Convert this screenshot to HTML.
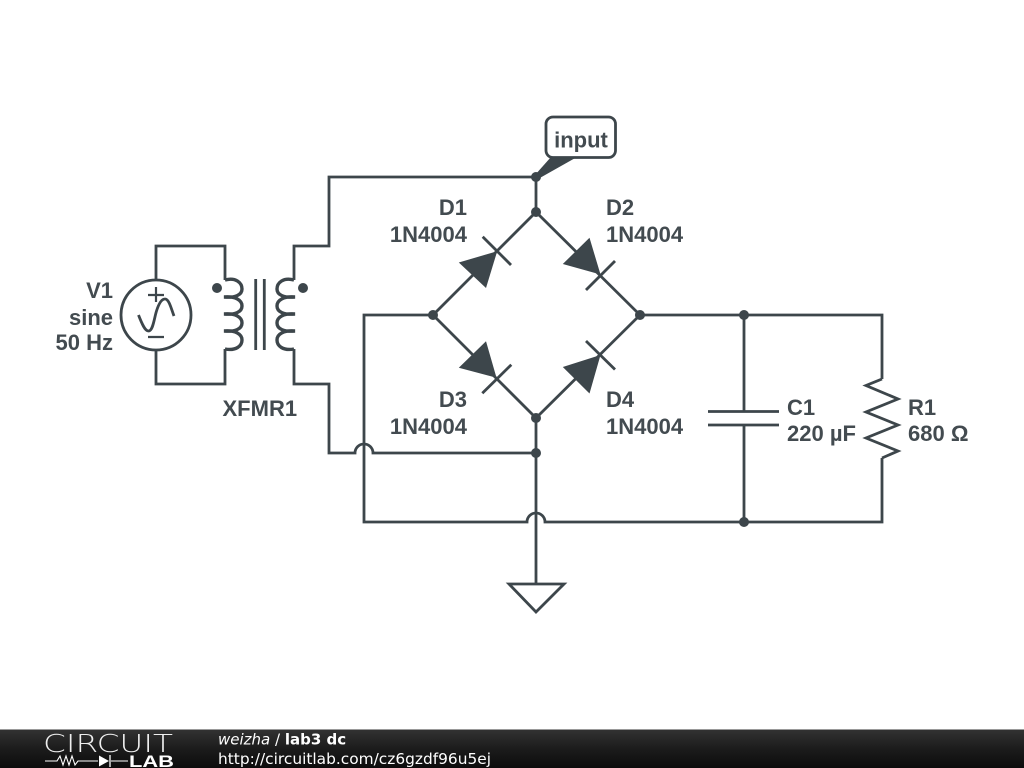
<!DOCTYPE html>
<html lang="en">
<head>
<meta charset="utf-8">
<title>lab3 dc</title>
<style>
html,body{margin:0;padding:0;background:#fff}
svg{display:block}
.w{fill:none;stroke:#3d464b;stroke-width:2.800;stroke-linejoin:miter;stroke-linecap:butt}
.c{stroke-width:3.400}
.f{fill:#3d464b;stroke:none}
.t{font-family:"Liberation Sans",sans-serif;font-weight:700;font-size:22px;fill:#434b50}
.e{text-anchor:end}
.foot{font-family:"DejaVu Sans",sans-serif;font-size:15px;fill:#fff}
</style>
</head>
<body>
<svg width="1024" height="768" viewBox="0 0 1024 768" xmlns="http://www.w3.org/2000/svg">
<defs>
<linearGradient id="bar" x1="0" y1="0" x2="0" y2="1">
<stop offset="0" stop-color="#333"/>
<stop offset="0.5" stop-color="#1c1c1c"/>
<stop offset="1" stop-color="#0c0c0c"/>
</linearGradient>
</defs>
<rect width="1024" height="768" fill="#fff"/>

<!-- wires -->
<path class="w" d="M156 280V246H225V280"/>
<path class="w" d="M156 350V384H225V349"/>
<path class="w" d="M294 280V246H329V177H536"/>
<path class="w" d="M294 349V384H329V453H355A9 9 0 0 1 373 453H536"/>
<path class="w" d="M433 315H364V522H527A9 9 0 0 1 545 522H882V458"/>
<path class="w" d="M536 177V212"/>
<path class="w" d="M536 418V584"/>
<path class="w" d="M640 315H882V379"/>
<path class="w" d="M744 315V411.500M744 425V522"/>
<path class="w" d="M882 379L866 385.500L898 399L866 412L898 425L866 438L898 451L882 458"/>
<path class="w" d="M708 411.500H779M708 425H779"/>

<!-- diode bridge -->
<path class="w" d="M433 315L536 212L640 315L536 418Z"/>
<polygon class="f" points="458.800,262.500 486,288 497.200,251.200"/>
<path class="w" d="M482.700 236.700L511 265"/>
<polygon class="f" points="589.500,237.800 562.800,264 600.500,274.500"/>
<path class="w" d="M615 261L586 290"/>
<polygon class="f" points="486,341.200 458.800,367.800 496.500,377.800"/>
<path class="w" d="M511.300 364.700L482.300 393.300"/>
<polygon class="f" points="562.800,367 589.500,393.500 600.500,355"/>
<path class="w" d="M586 341L615 369.500"/>

<!-- ground -->
<path class="w" d="M509 584H564L536 612Z"/>

<!-- source -->
<circle class="w" cx="156" cy="315" r="35"/>
<path class="w" style="stroke-width:2.200" d="M148 295H164M156 287V302M148 337H164"/>
<path class="w" d="M138.500 315C142 324 145 331 148.500 331C153 331 154 319 156.500 311C159 303 162 299 165 299C169 299 171 308 174 316"/>

<!-- transformer -->
<path class="w c" d="M225 280C236 277 242 283 242 289C242 295 235 298 224 297C235 296 242 300 242 306C242 312 235 315 224 314C235 313 242 317 242 323C242 329 235 332 224 331C235 330 242 334 242 340C242 346 236 351 225 349"/>
<path class="w c" d="M294 280C283 277 277 283 277 289C277 295 284 298 295 297C284 296 277 300 277 306C277 312 284 315 295 314C284 313 277 317 277 323C277 329 284 332 295 331C284 330 277 334 277 340C277 346 283 351 294 349"/>
<path class="w" d="M255.700 279V350M264.300 279V350"/>
<circle class="f" cx="217" cy="288" r="5"/>
<circle class="f" cx="303" cy="288" r="5"/>

<!-- junctions -->
<g class="f">
<circle cx="536" cy="177" r="5"/>
<circle cx="536" cy="212" r="5"/>
<circle cx="433" cy="315" r="5"/>
<circle cx="640" cy="315" r="5"/>
<circle cx="536" cy="418" r="5"/>
<circle cx="536" cy="453" r="5"/>
<circle cx="744" cy="315" r="5"/>
<circle cx="744" cy="522" r="5"/>
</g>

<!-- input tag -->
<polygon class="f" points="535,175 551,157 577,157 538,179"/>
<rect x="546" y="117" width="69.500" height="40.500" rx="7" ry="7" fill="#fff" stroke="#3d464b" stroke-width="2.800"/>
<text class="t" x="581" y="147.500" text-anchor="middle">input</text>

<!-- labels -->
<text class="t e" x="113" y="298">V1</text>
<text class="t e" x="113" y="325">sine</text>
<text class="t e" x="113" y="350">50 Hz</text>
<text class="t" x="222.500" y="416">XFMR1</text>
<text class="t e" x="467" y="215">D1</text>
<text class="t e" x="467" y="242">1N4004</text>
<text class="t" x="606" y="215">D2</text>
<text class="t" x="606" y="242">1N4004</text>
<text class="t e" x="467" y="407">D3</text>
<text class="t e" x="467" y="434">1N4004</text>
<text class="t" x="606" y="407">D4</text>
<text class="t" x="606" y="434">1N4004</text>
<text class="t" x="787" y="415">C1</text>
<text class="t" x="787" y="441">220 µF</text>
<text class="t" x="908" y="415">R1</text>
<text class="t" x="908" y="441">680 Ω</text>

<!-- footer -->
<rect x="0" y="729" width="1024" height="39" fill="url(#bar)"/>
<rect x="0" y="729" width="1024" height="1" fill="#999"/>
<text x="43" y="752" font-family="DejaVu Sans,sans-serif" font-weight="200" font-size="25" fill="#eee" textLength="130" lengthAdjust="spacingAndGlyphs">CIRCUIT</text>
<path d="M45 761H57L60 756L63 765L66 756L69 765L72 756L75 765L78 761H98M111 761H128" fill="none" stroke="#fff" stroke-width="1.100"/>
<polygon points="99,755.500 99,766.500 109,761" fill="#fff"/>
<path d="M110 755V767" stroke="#fff" stroke-width="1.300"/>
<text x="129" y="767" font-family="Liberation Sans,sans-serif" font-size="17" font-weight="700" fill="#fff" textLength="45" lengthAdjust="spacingAndGlyphs">LAB</text>
<text class="foot" x="218" y="744.500"><tspan font-style="italic">weizha</tspan> / <tspan font-weight="700">lab3 dc</tspan></text>
<text class="foot" x="218" y="764" textLength="273" lengthAdjust="spacingAndGlyphs">http://circuitlab.com/cz6gzdf96u5ej</text>
</svg>
</body>
</html>
